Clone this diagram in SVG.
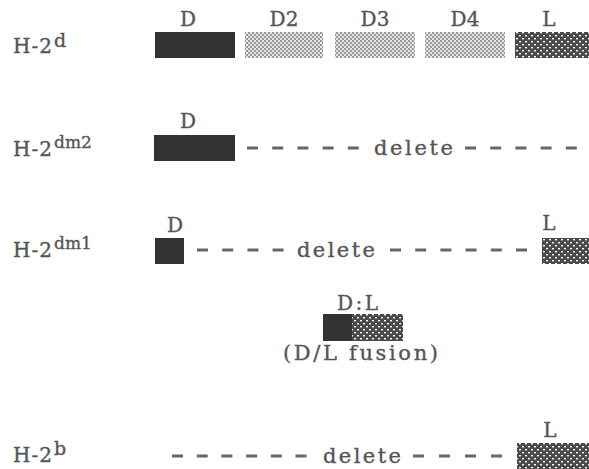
<svg xmlns="http://www.w3.org/2000/svg" width="589" height="469" viewBox="0 0 589 469">
<style>
text{font-family:"DejaVu Serif","Liberation Serif",serif;fill:#555;stroke:#555;stroke-width:0.35}
.lab{font-size:20px}
.sup{font-size:19px}
.sup2{font-size:17px}
.gl{font-size:20px;text-anchor:middle}
.gs{font-size:20px}
.del{font-size:21px}
.dark{fill:#333}
.light{fill:url(#stip)}
.lpat{fill:url(#check)}
.dash{stroke:#666;stroke-width:3;fill:none}
</style>
<defs>
<pattern id="stip" width="4" height="4" patternUnits="userSpaceOnUse">
<rect width="4" height="4" fill="#e6e6e6"/>
<rect x="0" y="0" width="2" height="2" fill="#9a9a9a"/>
<rect x="2" y="2" width="2" height="2" fill="#9a9a9a"/>
</pattern>
<pattern id="check" width="6" height="6" patternUnits="userSpaceOnUse">
<rect width="6" height="6" fill="#4a4a4a"/>
<rect x="0" y="2" width="2" height="1.4" fill="#fff"/>
<rect x="3" y="5" width="2" height="1" fill="#fff"/>
<rect x="3" y="0" width="2" height="0.4" fill="#fff"/>
</pattern>
</defs>

<g id="row-H2d">
<text class="lab" x="13" y="53" textLength="39" lengthAdjust="spacing">H-2</text>
<text class="sup" x="54" y="47">d</text>
<text class="gl" x="188" y="26">D</text>
<text class="gl" x="284" y="26">D2</text>
<text class="gl" x="375" y="26">D3</text>
<text class="gl" x="465" y="26">D4</text>
<text class="gl" x="549" y="26">L</text>
<rect id="d-D" class="dark" x="155" y="32" width="80" height="26"/>
<rect id="d-D2" class="light" x="245" y="32" width="78" height="26"/>
<rect id="d-D3" class="light" x="335" y="32" width="80" height="26"/>
<rect id="d-D4" class="light" x="425" y="32" width="80" height="26"/>
<rect id="d-L" class="lpat" x="515" y="32" width="74" height="26"/>
</g>

<g id="row-H2dm2">
<text class="lab" x="13" y="156" textLength="39" lengthAdjust="spacing">H-2</text>
<text class="sup2" x="54" y="148">dm2</text>
<text class="gl" x="188" y="128">D</text>
<rect class="dark" x="154" y="135" width="81" height="26"/>
<text class="del" x="374" y="155" textLength="79" lengthAdjust="spacing">delete</text>
</g>

<g id="row-H2dm1">
<text class="lab" x="13" y="257" textLength="39" lengthAdjust="spacing">H-2</text>
<text class="sup2" x="54" y="249">dm1</text>
<text class="gl" x="175" y="232">D</text>
<rect class="dark" x="155" y="238" width="29" height="26"/>
<text class="del" x="297" y="257" textLength="78" lengthAdjust="spacing">delete</text>
<text class="gl" x="549" y="230">L</text>
<rect class="lpat" x="542" y="238" width="47" height="26"/>
</g>

<g id="fusion">
<text class="gs" x="337" y="310" textLength="41" lengthAdjust="spacing">D:L</text>
<rect class="dark" x="323" y="314" width="29" height="27"/>
<rect class="lpat" x="352" y="314" width="51" height="27"/>
<text class="del" x="283" y="360" textLength="155" lengthAdjust="spacing">(D/L fusion)</text>
</g>

<g id="row-H2b">
<text class="lab" x="13" y="462" textLength="39" lengthAdjust="spacing">H-2</text>
<text class="sup" x="54" y="455">b</text>
<text class="del" x="323" y="463" textLength="78" lengthAdjust="spacing">delete</text>
<text class="gl" x="550" y="437">L</text>
<rect class="lpat" x="517" y="443" width="72" height="26"/>
</g>

<g id="connectors">
<line class="dash" x1="247" y1="148" x2="361" y2="148" stroke-dasharray="11 14.2"/>
<line class="dash" x1="465" y1="148" x2="579" y2="148" stroke-dasharray="11 14.2"/>
<line class="dash" x1="197" y1="250" x2="285" y2="250" stroke-dasharray="11 14.2"/>
<line class="dash" x1="390" y1="250" x2="529" y2="250" stroke-dasharray="11 14.2"/>
<line class="dash" x1="172" y1="456" x2="308" y2="456" stroke-dasharray="11 13.7"/>
<line class="dash" x1="413" y1="456" x2="506" y2="456" stroke-dasharray="11 15"/>
</g>
</svg>
